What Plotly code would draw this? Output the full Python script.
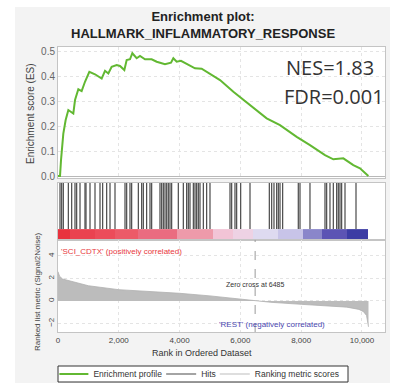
import plotly.graph_objects as go

# Running enrichment score (rank, ES)
es_rank = [0, 66, 99, 175, 252, 340, 504, 560, 669, 778, 888, 1031, 1217, 1437, 1546, 1656,
           1765, 1930, 2039, 2182, 2259, 2369, 2445, 2588, 2697, 2862, 3081, 3246, 3520, 3717,
           3794, 3904, 4046, 4287, 4507, 4726, 4945, 5110, 5329, 5768, 6316, 6864, 7303, 7852,
           8289, 8783, 9057, 9386, 9715, 9934, 10210]
es_score = [0.0, 0.0, 0.064, 0.17, 0.224, 0.264, 0.25, 0.304, 0.347, 0.34, 0.377, 0.417, 0.407,
            0.39, 0.421, 0.41, 0.437, 0.444, 0.44, 0.424, 0.464, 0.467, 0.491, 0.471, 0.48,
            0.467, 0.467, 0.457, 0.447, 0.453, 0.471, 0.457, 0.461, 0.444, 0.431, 0.429, 0.413,
            0.4, 0.384, 0.337, 0.284, 0.231, 0.204, 0.157, 0.124, 0.084, 0.067, 0.071, 0.044,
            0.031, 0.0]

# Positions of gene-set members in the ranked list
hit_ranks = [66, 121, 175, 340, 450, 559, 614, 724, 888, 921, 1053, 1217, 1382, 1469, 1601,
             1711, 1875, 2204, 2259, 2368, 2423, 2643, 2752, 2807, 2916, 3026, 3081, 3355,
             3410, 3465, 3520, 3575, 3629, 3684, 3739, 3958, 4123, 4232, 4287, 4342, 4452,
             4507, 4561, 4616, 4671, 4781, 4890, 5000, 5658, 5713, 5822, 5877, 6009, 6316,
             6952, 7029, 7105, 7193, 7248, 7303, 7390, 7905, 7961, 8289, 8783, 8838, 8947,
             9057, 9167, 9221, 9276, 9331, 9441, 9803]

# Ranked list metric (Signal2Noise)
metric_rank = [0, 50, 150, 300, 600, 1000, 2000, 3000, 4000, 5000, 6000, 6485, 7000, 8000,
               9000, 9500, 9900, 10050, 10150, 10200, 10214]
metric_value = [2.6, 2.2, 1.95, 1.85, 1.6, 1.35, 1.0, 0.85, 0.68, 0.45, 0.15, 0.0, -0.12,
                -0.3, -0.45, -0.55, -0.75, -0.95, -1.3, -1.9, -2.3]
zero_cross = 6485

# Colour bar under the hits (rank block edges and colours)
heat_edges = [0, 395, 1217, 1875, 2630, 3920, 5099, 5757, 6414, 7237, 8059, 8680, 9520, 10214]
heat_colors = ["#e8323e", "#ea4250", "#ec4c5a", "#ec5a68", "#ea6c80", "#ee9aaa", "#f2c4d6",
               "#eed2e4", "#dedaf0", "#c8c4e8", "#8a86ca", "#5c54b4", "#3c3ca4"]

x_tick_vals = [0, 2000, 4000, 6000, 8000, 10000]
x_tick_text = ["0", "2,000", "4,000", "6,000", "8,000", "10,000"]
es_ticks = [0.0, 0.1, 0.2, 0.3, 0.4, 0.5]
metric_ticks = [-2, 0, 2, 4]

X_RANGE = [0, 10757]
FONT = "Liberation Sans, Arial, sans-serif"
GRID = "#e4e4e4"
FRAME = "#c4c4c4"

# pixel -> paper helpers for the 414x383 canvas (plot area 58..385 x 47..332)
def px_x(p):
    return (p - 58) / 327


def px_y(p):
    return (332 - p) / 285


fig = go.Figure()

# Enrichment profile
fig.add_trace(go.Scatter(x=es_rank, y=es_score, mode="lines", name="Enrichment profile",
                         line=dict(color="#62b832", width=2), xaxis="x", yaxis="y"))

# Hits as vertical ticks
hx, hy = [], []
for r in hit_ranks:
    hx += [r, r, None]
    hy += [0.19, 1.0, None]
fig.add_trace(go.Scatter(x=hx, y=hy, mode="lines", name="Hits",
                         line=dict(color="#2a2a2a", width=1.2), opacity=0.85,
                         xaxis="x2", yaxis="y2"))

# Colour bar
n = len(heat_colors)
fig.add_trace(go.Heatmap(x=heat_edges, y=[0, 0.19], z=[list(range(n))],
                         colorscale=[[i / (n - 1), c] for i, c in enumerate(heat_colors)],
                         zmin=0, zmax=n - 1, showscale=False, hoverinfo="skip",
                         xaxis="x2", yaxis="y2"))

# Ranked metric area
fig.add_trace(go.Scatter(x=metric_rank, y=metric_value, mode="lines", fill="tozeroy",
                         fillcolor="#bcbcbc", line=dict(color="#b0b0b0", width=0.8),
                         showlegend=False, xaxis="x3", yaxis="y3"))
fig.add_trace(go.Scatter(x=[None], y=[None], mode="lines", name="Ranking metric scores",
                         line=dict(color="#dedede", width=2), xaxis="x3", yaxis="y3"))

xcommon = dict(range=X_RANGE, showline=True, mirror=True, linecolor=FRAME, linewidth=1,
               tickvals=x_tick_vals, zeroline=False, ticks="")
fig.update_layout(
    width=414, height=383,
    margin=dict(l=58, r=29, t=47, b=51, autoexpand=False),
    paper_bgcolor="#f3f3f3", plot_bgcolor="white",
    font=dict(family=FONT, color="#444"),
    xaxis=dict(**xcommon, anchor="y", showticklabels=False, showgrid=True,
               gridcolor=GRID, griddash="dot"),
    yaxis=dict(domain=[0.54, 1.0], range=[-0.008, 0.516], tickvals=es_ticks,
               tickformat=".1f", showline=True, mirror=True, linecolor=FRAME,
               showgrid=True, gridcolor=GRID, griddash="dot", zeroline=True,
               zerolinecolor="#b8b8b8", zerolinewidth=1, ticks="",
               tickfont=dict(size=10, color="#666")),
    xaxis2=dict(**xcommon, anchor="y2", showticklabels=False, showgrid=False),
    yaxis2=dict(domain=[0.323, 0.523], range=[0, 1], showticklabels=False, showgrid=False,
                zeroline=False, showline=True, mirror=True, linecolor=FRAME),
    xaxis3=dict(**xcommon, anchor="y3", showticklabels=True, ticktext=x_tick_text,
                showgrid=True, gridcolor=GRID, griddash="dot",
                tickfont=dict(size=8, color="#444")),
    yaxis3=dict(domain=[0.0, 0.323], range=[-2.76, 5.42], tickvals=metric_ticks,
                showline=True, mirror=True, linecolor=FRAME, showgrid=True,
                gridcolor=GRID, griddash="dot", zeroline=False, ticks="",
                tickangle=-90, tickfont=dict(size=8, color="#444")),
    legend=dict(orientation="h", x=0.44, xanchor="center", y=px_y(374),
                yanchor="middle", bgcolor="rgba(0,0,0,0)", borderwidth=0,
                font=dict(size=8.5, color="#333"), itemwidth=30, tracegroupgap=0,
                indentation=-6),
    showlegend=True,
)

# White surround outside the grey panel
for x0, x1, y0, y1 in [(-0.2, px_x(15), -0.2, 1.2), (px_x(390), 1.2, -0.2, 1.2),
                       (-0.2, 1.2, px_y(7), 1.2)]:
    fig.add_shape(type="rect", xref="paper", yref="paper", x0=x0, x1=x1, y0=y0, y1=y1,
                  fillcolor="white", line=dict(width=0), layer="below")

# Legend frame
fig.add_shape(type="rect", xref="paper", yref="paper", x0=px_x(58), x1=px_x(348),
              y0=px_y(382), y1=px_y(366), fillcolor="white",
              line=dict(color="#333", width=1), layer="below")

# Zero-cross marker
fig.add_shape(type="line", xref="x3", yref="y3 domain", x0=zero_cross, x1=zero_cross,
              y0=0, y1=1, line=dict(color="#999", width=1, dash="dash"))

annotations = [
    dict(text="<b>Enrichment plot:<br>HALLMARK_INFLAMMATORY_RESPONSE</b>", xref="paper",
         yref="paper", x=0.443, y=px_y(25), xanchor="center", yanchor="middle",
         showarrow=False, font=dict(size=13, color="#222", family=FONT)),
    dict(text="NES=1.83", xref="paper", yref="paper", x=px_x(284), y=px_y(67),
         xanchor="left", yanchor="middle", showarrow=False,
         font=dict(size=20, color="#333", family="Open Sans, sans-serif")),
    dict(text="FDR=0.001", xref="paper", yref="paper", x=px_x(282), y=px_y(96),
         xanchor="left", yanchor="middle", showarrow=False,
         font=dict(size=20, color="#333", family="Open Sans, sans-serif")),
    dict(text="Enrichment score (ES)", xref="paper", yref="paper", x=px_x(31),
         y=px_y(114), textangle=-90, xanchor="center", yanchor="middle",
         showarrow=False, font=dict(size=10, color="#444")),
    dict(text="Ranked list metric (Signal2Noise)", xref="paper", yref="paper",
         x=px_x(37), y=px_y(292), textangle=-90, xanchor="center",
         yanchor="middle", showarrow=False, font=dict(size=8, color="#444")),
    dict(text="Rank in Ordered Dataset", xref="paper", yref="paper", x=0.44,
         y=px_y(353), xanchor="center", yanchor="middle", showarrow=False,
         font=dict(size=9, color="#333")),
    dict(text="'SCI_CDTX' (positively correlated)", xref="x3", yref="y3", x=40, y=4.36,
         xanchor="left", yanchor="middle", showarrow=False,
         font=dict(size=8, color="#e8383c")),
    dict(text="Zero cross at " + str(zero_cross), xref="x3", yref="y3", x=zero_cross,
         y=1.42, xanchor="center", yanchor="middle", showarrow=False,
         font=dict(size=7, color="#333")),
    dict(text="'REST' (negatively correlated)", xref="x3", yref="y3", x=8849, y=-2.13,
         xanchor="right", yanchor="middle", showarrow=False,
         font=dict(size=8, color="#4a48b0")),
]
fig.update_layout(annotations=annotations)

fig.write_html("out.html")
